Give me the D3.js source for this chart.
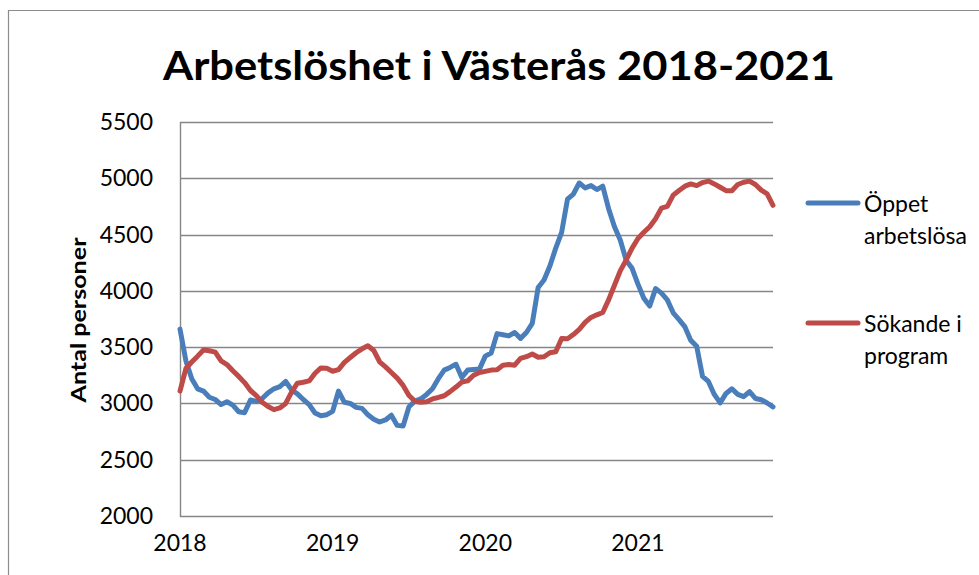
<!DOCTYPE html>
<html lang="sv">
<head>
<meta charset="UTF-8">
<title>Arbetslöshet i Västerås 2018-2021</title>
<script src="https://d3js.org/d3.v7.min.js"></script>
<style>
  body { margin: 0; background: #fff; }
  svg { display: block; font-family: Lato, "Open Sans", sans-serif; }
</style>
</head>
<body>
<div id="chart"></div>
<script>
// weekly figures, one value every second week (week 0 = first week of 2018)
const weekStep = 2;
const yearLabels = ["2018", "2019", "2020", "2021"];
const yTicks = [2000, 2500, 3000, 3500, 4000, 4500, 5000, 5500];

const oppetArbetslosa = [
  3660, 3380, 3220, 3130, 3110, 3055, 3035, 2990, 3015, 2985,
  2926, 2918, 3030, 3018, 3044, 3094, 3130, 3150, 3195, 3120,
  3085, 3035, 2990, 2915, 2890, 2900, 2930, 3110, 3010, 3000,
  2965, 2956, 2900, 2860, 2835, 2853, 2895, 2805, 2800, 2970,
  3020, 3040, 3080, 3130, 3220, 3296, 3320, 3348, 3230, 3296,
  3302, 3305, 3420, 3448, 3620, 3610, 3600, 3630, 3578, 3630,
  3711, 4030, 4096, 4220, 4380, 4520, 4815, 4860, 4958, 4915,
  4935, 4900, 4930, 4730, 4570, 4450, 4270, 4200, 4060, 3935,
  3865, 4020, 3980, 3920, 3805, 3745, 3680, 3560, 3508, 3240,
  3195, 3080, 3005, 3089, 3130, 3080, 3060, 3104, 3044, 3033,
  3004, 2970
];

const sokandeIProgram = [
  3110, 3310, 3368, 3420, 3475, 3468, 3456, 3378, 3345, 3290,
  3240, 3185, 3115, 3070, 3010, 2972, 2945, 2960, 3000, 3100,
  3180, 3188, 3200, 3268, 3315, 3312, 3286, 3300, 3365, 3408,
  3450, 3485, 3512, 3470, 3370, 3325, 3275, 3225, 3160, 3070,
  3020, 3010, 3015, 3040, 3053, 3068, 3105, 3145, 3190, 3200,
  3250, 3275, 3285, 3296, 3300, 3340, 3345, 3340, 3400, 3415,
  3439, 3410, 3415, 3450, 3459, 3577, 3575, 3612, 3657, 3720,
  3764, 3787, 3808, 3920, 4050, 4180, 4274, 4380, 4465, 4520,
  4570, 4640, 4735, 4750, 4850, 4892, 4930, 4950, 4935, 4962,
  4975, 4950, 4920, 4890, 4890, 4945, 4965, 4975, 4945, 4895,
  4862, 4760
];

const seriesNames = [["Öppet", "arbetslösa"], ["Sökande i", "program"]];
const seriesColors = ["#4a7ebb", "#be4b48"];

const width = 979, height = 575;
const plot = { left: 180, right: 773, top: 122, bottom: 516 };

const svg = d3.select("#chart").append("svg")
    .attr("width", width)
    .attr("height", height);

// chart frame (only top and left visible in the crop)
svg.append("path")
    .attr("d", "M8.5,575 V10.5 H979")
    .attr("fill", "none")
    .attr("stroke", "#8c8c8c")
    .attr("stroke-width", 1.2);

const lastWeek = (oppetArbetslosa.length - 1) * weekStep;
const x = d3.scaleLinear().domain([0, lastWeek]).range([plot.left, plot.right]);
const y = d3.scaleLinear().domain([2000, 5500]).range([plot.bottom, plot.top]);

// gridlines
svg.append("g")
    .selectAll("line")
    .data(yTicks)
    .join("line")
    .attr("x1", plot.left)
    .attr("x2", plot.right)
    .attr("y1", d => Math.round(y(d)) + 0.5)
    .attr("y2", d => Math.round(y(d)) + 0.5)
    .attr("stroke", "#868686")
    .attr("stroke-width", 1.4);

// left axis line
svg.append("line")
    .attr("x1", plot.left + 0.5).attr("x2", plot.left + 0.5)
    .attr("y1", plot.top).attr("y2", plot.bottom + 1)
    .attr("stroke", "#868686")
    .attr("stroke-width", 1.4);

// y tick labels
svg.append("g")
    .selectAll("text")
    .data(yTicks)
    .join("text")
    .attr("x", 153)
    .attr("y", d => y(d) + 8)
    .attr("text-anchor", "end")
    .attr("font-size", 23)
    .attr("fill", "#000")
    .text(d => d);

// x tick labels, one per year (52 weeks)
svg.append("g")
    .selectAll("text")
    .data(yearLabels)
    .join("text")
    .attr("x", (d, i) => x(i * 52))
    .attr("y", 551)
    .attr("text-anchor", "middle")
    .attr("font-size", 23)
    .attr("fill", "#000")
    .text(d => d);

// axis title
svg.append("text")
    .attr("transform", "translate(86,320) rotate(-90)")
    .attr("text-anchor", "middle")
    .attr("font-size", 21)
    .attr("font-weight", "bold")
    .attr("textLength", 165)
    .attr("lengthAdjust", "spacingAndGlyphs")
    .text("Antal personer");

// title
svg.append("text")
    .attr("x", 499)
    .attr("y", 80)
    .attr("text-anchor", "middle")
    .attr("font-size", 41)
    .attr("font-weight", "bold")
    .attr("textLength", 672)
    .attr("lengthAdjust", "spacingAndGlyphs")
    .text("Arbetslöshet i Västerås 2018-2021");

// lines
const line = d3.line()
    .x((d, i) => x(i * weekStep))
    .y(d => y(d));

[oppetArbetslosa, sokandeIProgram].forEach((values, k) => {
  svg.append("path")
      .datum(values)
      .attr("fill", "none")
      .attr("stroke", seriesColors[k])
      .attr("stroke-width", 5)
      .attr("stroke-linejoin", "round")
      .attr("stroke-linecap", "round")
      .attr("d", line);
});

// legend
const legendY = [203, 323];
seriesNames.forEach((lines, k) => {
  const g = svg.append("g");
  g.append("line")
      .attr("x1", 808).attr("x2", 858)
      .attr("y1", legendY[k]).attr("y2", legendY[k])
      .attr("stroke", seriesColors[k])
      .attr("stroke-width", 5)
      .attr("stroke-linecap", "round");
  lines.forEach((t, j) => {
    g.append("text")
        .attr("x", 864)
        .attr("y", legendY[k] + 9 + j * 32)
        .attr("font-size", 23)
        .attr("fill", "#000")
        .text(t);
  });
});
</script>
</body>
</html>
